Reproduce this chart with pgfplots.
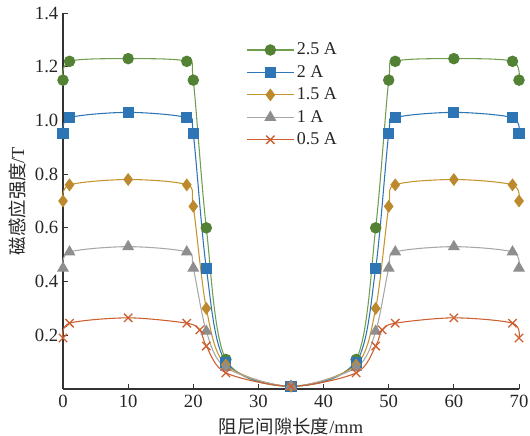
\documentclass[border=0pt]{standalone}
\usepackage{fontspec}
\setmainfont{Liberation Serif}
\newfontfamily\cjk{Noto Sans CJK SC}
\usepackage{pgfplots}
\pgfplotsset{compat=1.18}

\definecolor{gmark}{HTML}{548235}
\definecolor{gline}{HTML}{6E9E4E}
\definecolor{bmark}{HTML}{2E75B6}
\definecolor{omark}{HTML}{BC8A2C}
\definecolor{oline}{HTML}{C4952E}
\definecolor{ymark}{HTML}{8E8E8E}
\definecolor{yline}{HTML}{A8A8A8}
\definecolor{rmark}{HTML}{CC5E30}

\begin{document}
\begin{tikzpicture}
\useasboundingbox (-47.25pt,-34.5pt) rectangle (350.25pt,291.75pt);
\begin{axis}[
    at={(0,0)}, anchor=south west,
    scale only axis,
    width=342pt, height=282pt,
    xmin=0, xmax=70, ymin=0, ymax=1.4,
    xtick={0,10,...,70},
    ytick={0.2,0.4,...,1.4},
    axis x line*=bottom, axis y line*=left,
    axis line style={line width=0.8pt, black!80},
    tick align=inside,
    major tick length=4pt,
    tick style={black!80, line width=0.7pt},
    clip=false,
    /pgf/number format/assume math mode=true,
    yticklabel style={/pgf/number format/.cd, fixed, fixed zerofill, precision=1},
    tick label style={font=\fontsize{14}{15}\selectfont, text=black!85},
    xticklabel style={yshift=-1pt},
    xlabel={{\cjk 阻尼间隙长度}/mm},
    ylabel={{\cjk 磁感应强度}/T},
    label style={font=\fontsize{13.8}{15}\selectfont, text=black!85},
    xlabel style={yshift=-0.5pt},
    ylabel style={yshift=0pt},
    every axis plot/.append style={smooth, tension=0.5, line width=0.8pt},
    legend style={at={(0.393,0.935)}, anchor=north west, draw=none, fill=none,
        font=\fontsize{13.5}{15}\selectfont, row sep=2.4pt, text=black!85},
    legend cell align=left,
    legend image code/.code={\draw[#1, mark repeat=2, mark phase=2]
        plot coordinates {(0pt,0pt) (17.5pt,0pt) (35pt,0pt)};},
]
\addplot[color=gline, mark=*, mark size=3.9pt, mark options={fill=gmark, draw=gmark}]
coordinates {
 (0,1.15) (1,1.22) (10,1.23) (19,1.22) (20,1.15) (22,0.60) (25,0.11) (35,0.01)
 (45,0.11) (48,0.60) (50,1.15) (51,1.22) (60,1.23) (69,1.22) (70,1.15)
};
\addlegendentry{2.5 A}
\addplot[color=bmark, mark=square*, mark size=3.8pt, mark options={fill=bmark, draw=bmark}]
coordinates {
 (0,0.95) (1,1.01) (10,1.03) (19,1.01) (20,0.95) (22,0.45) (25,0.10) (35,0.01)
 (45,0.10) (48,0.45) (50,0.95) (51,1.01) (60,1.03) (69,1.01) (70,0.95)
};
\addlegendentry{2 A}
\addplot[color=oline, mark=diamond*, mark size=4.2pt, mark options={fill=omark, draw=omark}]
coordinates {
 (0,0.70) (1,0.76) (10,0.78) (19,0.76) (20,0.68) (22,0.30) (25,0.09) (35,0.01)
 (45,0.09) (48,0.30) (50,0.68) (51,0.76) (60,0.78) (69,0.76) (70,0.70)
};
\addlegendentry{1.5 A}
\addplot[color=yline, mark=triangle*, mark size=4.4pt, mark options={fill=ymark, draw=ymark}]
coordinates {
 (0,0.45) (1,0.51) (10,0.53) (19,0.51) (20,0.45) (22,0.215) (25,0.08) (35,0.01)
 (45,0.08) (48,0.215) (50,0.45) (51,0.51) (60,0.53) (69,0.51) (70,0.45)
};
\addlegendentry{1 A}
\addplot[color=rmark, mark=x, mark size=4.4pt, mark options={draw=rmark, line width=1pt}]
coordinates {
 (0,0.19) (1,0.245) (10,0.265) (19,0.245) (21,0.22) (22,0.16) (25,0.06) (35,0.01)
 (45,0.06) (48,0.16) (49,0.22) (51,0.245) (60,0.265) (69,0.245) (70,0.19)
};
\addlegendentry{0.5 A}
\end{axis}
\end{tikzpicture}
\end{document}
